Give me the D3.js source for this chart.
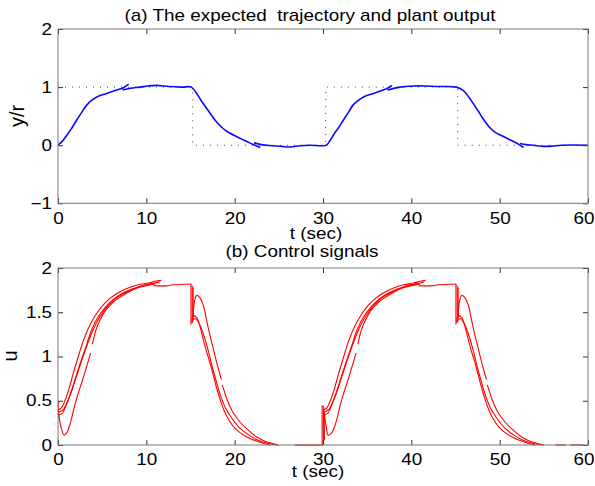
<!DOCTYPE html>
<html><head><meta charset="utf-8">
<script src="https://cdn.jsdelivr.net/npm/d3@7/dist/d3.min.js"></script>
<style>
html,body{margin:0;padding:0;background:#fff;}
text{font-family:"Liberation Sans",Arial,Helvetica,sans-serif;fill:#000;white-space:pre;}
</style></head><body>
<svg id="chart" width="595" height="486"></svg>
<script>
// ---------- data ----------
const xTicks = [0, 10, 20, 30, 40, 50, 60];
const yTicksA = [-1, 0, 1, 2];
const yTicksB = [0, 0.5, 1, 1.5, 2];
const titleA = "(a) The expected  trajectory and plant output";
const titleB = "(b) Control signals";
const xLabel = "t (sec)";
const yLabelA = "y/r";
const yLabelB = "u";

// reference r(t) (dotted)
const refSignal = [[0,1],[15.25,1],[15.25,0],[30.3,0],[30.3,1],[45.25,1],[45.25,0],[60,0]];

// plant output / expected trajectory (blue)
const yRise1 = [[0,0],[0.5,0.07],[1.0,0.17],[1.5,0.28],[2.1,0.43],[2.7,0.57],[3.25,0.69],[3.8,0.77],[4.4,0.83],[5.5,0.89],[6.6,0.95],[7.4,0.99],[8.0,1.05]];
const yMain1 = [[7.3,0.95],[8.2,0.98],[9.3,1.0],[10.2,1.02],[11.2,1.03],[12.5,1.01],[14,1.0],[15.1,1.0],[15.7,0.89],[16.2,0.77],[16.8,0.64],[17.4,0.51],[18.0,0.39],[18.6,0.3],[19.1,0.24],[20.2,0.15],[21.0,0.09],[21.7,0.04],[22.3,0.0],[22.9,-0.04]];
const yTail1 = [[22.2,0.04],[23.0,0.01],[24.4,-0.01],[25.5,-0.025],[26.3,-0.03],[27.4,-0.01],[28.5,0],[30.35,0],[30.8,0.08],[31.2,0.18],[31.8,0.31],[32.3,0.43],[32.9,0.57],[33.4,0.69],[34.0,0.77],[34.6,0.83],[35.7,0.89],[36.8,0.95],[37.4,0.99],[37.8,1.03]];
const yMain2 = [[37.3,0.95],[38.7,1.0],[40.2,1.02],[41.5,1.02],[43,1.01],[45.1,1.0],[45.9,0.94],[46.5,0.83],[47.0,0.72],[47.6,0.58],[48.1,0.46],[48.9,0.3],[49.5,0.22],[50.0,0.18],[51.2,0.09],[52.0,0.03],[52.7,-0.04]];
const yTail2 = [[52.3,0.03],[53.0,0.01],[53.8,0],[55,-0.02],[56,-0.015],[57,0],[60,0]];
const blueSeries = [yRise1, yMain1, yTail1, yMain2, yTail2];

// control signals (red), cycle 1
const uA1 = [[0,0.40],[0.3,0.41],[0.7,0.48],[1.2,0.62],[1.7,0.80],[2.3,1.0],[2.8,1.16],[3.4,1.31],[4.2,1.46],[5.0,1.57],[5.7,1.64],[6.5,1.70],[7.2,1.74],[8.1,1.78],[9.1,1.81],[10.2,1.83],[11.0,1.85],[11.7,1.86]];
const uB1 = [[0.05,0.34],[0.5,0.36],[1.0,0.47],[1.55,0.61],[2.1,0.78],[2.7,0.96],[3.3,1.13],[3.8,1.26],[4.3,1.37],[4.95,1.48],[5.7,1.58],[6.45,1.65],[7.4,1.71],[8.3,1.75],[9.3,1.79],[10.5,1.82],[11.5,1.84]];
const uC1 = [[0.05,0.37],[0.6,0.40],[1.2,0.52],[1.8,0.70],[2.5,0.92],[3.1,1.09],[3.8,1.30],[4.5,1.44],[5.3,1.55],[6.2,1.64],[7.2,1.71],[8.3,1.76],[9.5,1.80],[10.8,1.83]];
const uD1 = [[0,0.44],[0.3,0.22],[0.7,0.11],[1.0,0.14],[1.4,0.25],[1.9,0.45],[2.4,0.62],[2.8,0.74],[3.25,0.89],[3.7,1.04]];
const uE1 = [[3.9,1.14],[4.3,1.30],[4.8,1.42],[5.3,1.51],[6.2,1.61],[7.2,1.68],[8.2,1.74],[9.1,1.78],[10,1.80],[11,1.82]];
const uTop1 = [[10.8,1.80],[12.5,1.80],[13,1.81],[15.1,1.82]];
const uFallE1 = [[15.3,1.45],[15.45,1.62],[15.7,1.69],[16.1,1.66],[16.5,1.56],[16.8,1.42],[17.2,1.24],[17.6,1.08],[18.0,0.92],[18.5,0.74]];
const uFallE1b = [[18.6,0.68],[19.2,0.50],[19.8,0.37],[20.6,0.26],[21.5,0.17],[22.5,0.09],[23.5,0.04],[24.4,0.015],[24.9,0]];
const uFallF1 = [[15.15,1.38],[15.3,1.46],[15.7,1.44],[16.1,1.33],[16.45,1.19],[16.8,1.06],[17.2,0.93],[17.6,0.78],[18.0,0.63],[18.4,0.50],[18.8,0.39],[19.3,0.29],[19.85,0.21],[20.6,0.14],[21.4,0.09],[22.3,0.05],[23.2,0.02],[24.0,0]];
const uFallG1 = [[15.25,1.40],[15.5,1.43],[16.0,1.37],[16.5,1.24],[17.0,1.07],[17.5,0.87],[18.0,0.69],[18.5,0.53],[19.0,0.41],[19.7,0.30],[20.5,0.20],[21.5,0.12],[22.5,0.06],[23.5,0.025],[24.5,0.005],[25.0,0]];

// control signals (red), cycle 2
const uA2 = [[30.05,0.40],[30.35,0.41],[30.75,0.48],[31.25,0.62],[31.75,0.80],[32.35,1.0],[32.85,1.16],[33.45,1.31],[34.25,1.46],[35.05,1.57],[35.75,1.64],[36.55,1.70],[37.25,1.74],[38.15,1.78],[39.15,1.81],[40.25,1.83],[41.0,1.85],[41.6,1.86]];
const uB2 = [[30.1,0.34],[30.55,0.36],[31.05,0.47],[31.6,0.61],[32.15,0.78],[32.75,0.96],[33.35,1.13],[33.85,1.26],[34.35,1.37],[35.0,1.48],[35.75,1.58],[36.5,1.65],[37.45,1.71],[38.35,1.75],[39.35,1.79],[40.55,1.82],[41.4,1.84]];
const uC2 = [[30.1,0.37],[30.65,0.40],[31.25,0.52],[31.85,0.70],[32.55,0.92],[33.15,1.09],[33.85,1.30],[34.55,1.44],[35.35,1.55],[36.25,1.64],[37.25,1.71],[38.35,1.76],[39.55,1.80],[40.8,1.83]];
const uD2 = [[30.05,0.44],[30.35,0.22],[30.6,0.11],[31.0,0.14],[31.45,0.25],[31.95,0.45],[32.45,0.62],[32.85,0.74],[33.3,0.89],[33.75,1.04]];
const uE2 = [[33.95,1.14],[34.35,1.30],[34.85,1.42],[35.35,1.51],[36.25,1.61],[37.25,1.68],[38.25,1.74],[39.15,1.78],[40.05,1.80],[41.0,1.82]];
const uTop2 = [[40.8,1.80],[42.5,1.80],[43,1.81],[45.1,1.82]];
const uFallE2 = [[45.3,1.45],[45.45,1.62],[45.7,1.69],[46.1,1.66],[46.5,1.56],[46.8,1.42],[47.2,1.24],[47.6,1.08],[48.0,0.92],[48.5,0.74]];
const uFallE2b = [[48.6,0.68],[49.2,0.50],[49.8,0.37],[50.6,0.26],[51.5,0.17],[52.5,0.09],[53.5,0.04],[54.4,0.015],[54.9,0]];
const uFallF2 = [[45.15,1.38],[45.3,1.46],[45.7,1.44],[46.1,1.33],[46.45,1.19],[46.8,1.06],[47.2,0.93],[47.6,0.78],[48.0,0.63],[48.4,0.50],[48.8,0.39],[49.3,0.29],[49.85,0.21],[50.6,0.14],[51.4,0.09],[52.3,0.05],[53.2,0.02],[54.0,0]];
const uFallG2 = [[45.25,1.40],[45.5,1.43],[46.0,1.37],[46.5,1.24],[47.0,1.07],[47.5,0.87],[48.0,0.69],[48.5,0.53],[49.0,0.41],[49.7,0.30],[50.5,0.20],[51.5,0.12],[52.5,0.06],[53.5,0.025],[54.5,0.005],[55.0,0]];

// vertical jumps and zero stretches (red, straight)
const uJumps = [
  [[0.03,0.32],[0.03,0.50]],
  [[15.05,1.82],[15.05,1.36]], [[15.2,1.80],[15.2,1.38]], [[15.3,1.78],[15.3,1.42]],
  [[26.8,0],[30,0]],
  [[29.9,0],[29.9,0.45]], [[30.05,0],[30.05,0.40]], [[30.15,0.05],[30.15,0.36]],
  [[45.05,1.82],[45.05,1.36]], [[45.2,1.80],[45.2,1.38]], [[45.3,1.78],[45.3,1.42]],
  [[56.3,0],[57.5,0]], [[58.0,0],[59.5,0]]
];
const redSeries = [uA1,uB1,uC1,uD1,uE1,uTop1,uFallE1,uFallE1b,uFallF1,uFallG1,
                   uA2,uB2,uC2,uD2,uE2,uTop2,uFallE2,uFallE2b,uFallF2,uFallG2];

// ---------- drawing ----------
const SX = 1.18; // horizontal stretch of the original figure
const svg = d3.select("#chart");
const L = 58, R = 588;
const x = d3.scaleLinear().domain([0,60]).range([L,R]);
const yA = d3.scaleLinear().domain([-1,2]).range([203.3,29]);
const yB = d3.scaleLinear().domain([0,2]).range([445,268]);

function drawAxes(y, yTicks, fmt){
  const g = svg.append("g");
  const [y0,y1] = y.range();
  const bx = g.append("g").attr("transform",`translate(0,${y0})`)
    .call(d3.axisBottom(x).tickValues(xTicks).tickSize(-5).tickPadding(9).tickFormat(d3.format("d")));
  g.append("g").attr("transform",`translate(0,${y1})`)
    .call(d3.axisTop(x).tickValues(xTicks).tickSize(-5).tickFormat(""));
  const ly = g.append("g").attr("transform",`translate(${L},0)`)
    .call(d3.axisLeft(y).tickValues(yTicks).tickSize(-5).tickPadding(5).tickFormat(fmt));
  g.append("g").attr("transform",`translate(${R},0)`)
    .call(d3.axisRight(y).tickValues(yTicks).tickSize(-5).tickFormat(""));
  g.selectAll(".domain").remove();
  g.selectAll(".tick line").attr("stroke","#333").attr("stroke-width",1);
  g.selectAll(".tick text").attr("font-size",16).attr("fill","#000")
    .style("font-family","'Liberation Sans',Arial,sans-serif");
  bx.selectAll(".tick text")
    .attr("x", d => d === 60 ? -4.5/SX : 0)
    .attr("transform", `scale(${SX},1)`);
  ly.selectAll(".tick text").attr("transform", `scale(${SX},1)`);
  g.append("rect").attr("x",L).attr("y",y1).attr("width",R-L).attr("height",y0-y1)
    .attr("fill","none").attr("stroke","#777").attr("stroke-width",1);
}

function label(txt, px, py, opts={}){
  const sx = opts.sx || SX;
  return svg.append("text")
    .attr("transform", `translate(${px},${py}) scale(${sx},1)` + (opts.rotate ? " rotate(-90)" : ""))
    .attr("text-anchor", opts.anchor || "middle")
    .attr("font-size", opts.size || 16)
    .attr("xml:space","preserve")
    .text(txt);
}

// clip paths
svg.append("clipPath").attr("id","clipA").append("rect")
  .attr("x",L).attr("y",yA(2)).attr("width",R-L).attr("height",yA(-1)-yA(2));
svg.append("clipPath").attr("id","clipB").append("rect")
  .attr("x",L).attr("y",yB(2)-1).attr("width",R-L).attr("height",yB(0)-yB(2)+2);

// panel (a)
const lineA = d3.line().x(d=>x(d[0])).y(d=>yA(d[1]));
const lineAc = d3.line().x(d=>x(d[0])).y(d=>yA(d[1])).curve(d3.curveCatmullRom.alpha(0.5));
const gA = svg.append("g").attr("clip-path","url(#clipA)");
gA.append("path").attr("d", lineA(refSignal)).attr("fill","none")
  .attr("stroke","#444").attr("stroke-width",1).attr("stroke-dasharray","1,6");
blueSeries.forEach(s=>{
  gA.append("path").attr("d", lineAc(s)).attr("fill","none")
    .attr("stroke","#0a0aff").attr("stroke-width",1.6).attr("stroke-linejoin","round");
});
drawAxes(yA, yTicksA, d=> d<0 ? "\u2212"+Math.abs(d) : String(d));

// panel (b)
const lineB = d3.line().x(d=>x(d[0])).y(d=>yB(d[1]));
const lineBc = d3.line().x(d=>x(d[0])).y(d=>yB(d[1])).curve(d3.curveCatmullRom.alpha(0.5));
const gB = svg.append("g").attr("clip-path","url(#clipB)");
redSeries.forEach(s=>{
  gB.append("path").attr("d", lineBc(s)).attr("fill","none")
    .attr("stroke","#ff0000").attr("stroke-width",1.1);
});
uJumps.forEach(s=>{
  gB.append("path").attr("d", lineB(s)).attr("fill","none")
    .attr("stroke","#ff0000").attr("stroke-width",1.1);
});
drawAxes(yB, yTicksB, d=>String(d));

// texts
label(titleA, 310, 20.5);
label(xLabel, 316, 238.5);
label(yLabelA, 24, 116, {rotate:true, size:20, sx:1});
label(titleB, 302, 257);
label(xLabel, 318, 477);
label(yLabelB, 16.5, 356, {rotate:true, size:20, sx:1});
</script>
</body></html>
